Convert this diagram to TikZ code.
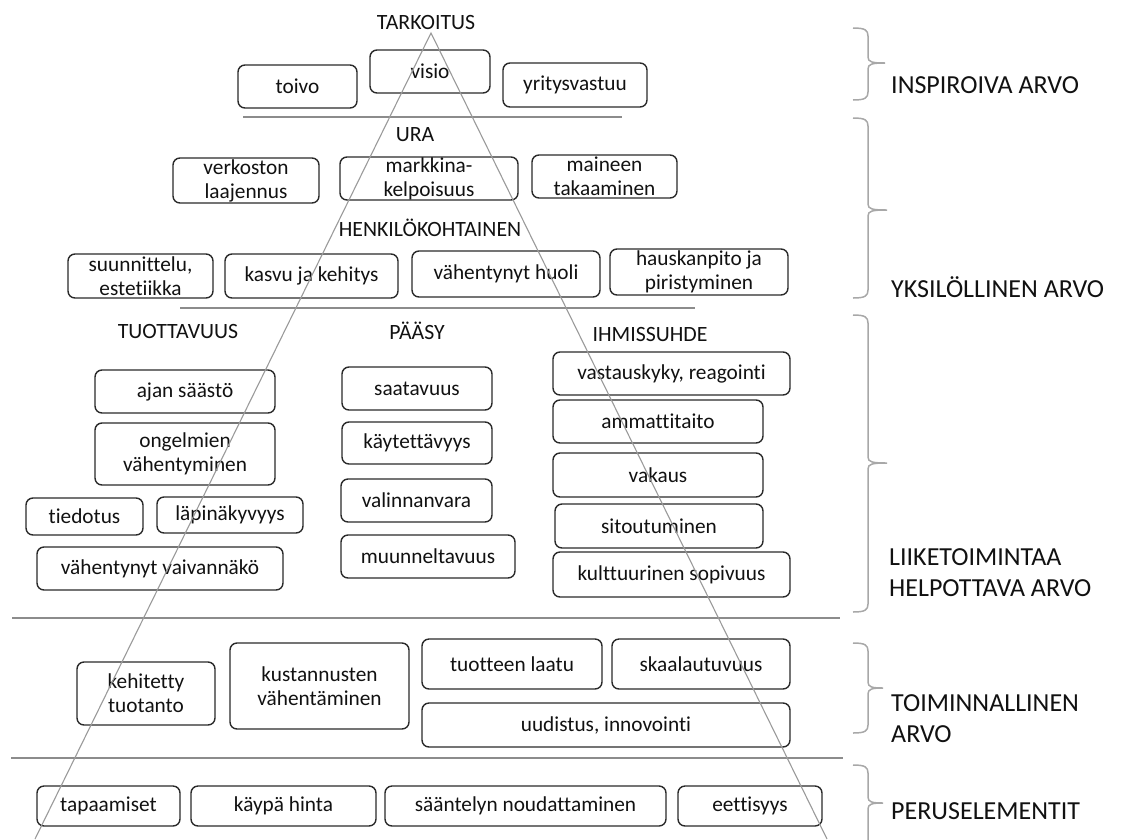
\documentclass[tikz,border=0pt]{standalone}
\usepackage{fontspec}
\setmainfont{Carlito}[Ligatures=NoCommon]
\definecolor{boxc}{HTML}{2A2A2A}
\definecolor{linec}{HTML}{8C8C8C}
\definecolor{tric}{HTML}{9A9A9A}
\definecolor{bracec}{HTML}{A8A8A8}
\definecolor{txtc}{HTML}{111111}
\newcommand{\boxfont}{\fontsize{21.3}{24}\selectfont}
\newcommand{\hdfont}{\fontsize{21.8}{24}\selectfont}
\newcommand{\rlfont}{\fontsize{26}{31}\selectfont}
\newcommand{\bx}[6]{\node[bx, minimum width=#4pt-#2pt, minimum height=#5pt-#3pt] (#1) at ({(#2+#4)/2},{(#3+#5)/2}) {#6};}
\newcommand{\sidebrace}[4]{%
  \draw[brc] (853,#2) .. controls (865,#2) and (868,#2+2) .. (868,#2+8)
     -- (868,#3-6) .. controls (868,#3-1) and (872,#3) .. (#1,#3)
     (#1,#3) .. controls (872,#3) and (868,#3+1) .. (868,#3+6)
     -- (868,#4-8) .. controls (868,#4-2) and (865,#4) .. (853,#4);}
\begin{document}
\begin{tikzpicture}[x=1pt,y=-1pt,
  bx/.style={draw=boxc, rounded corners=7pt, line width=1.4pt, inner sep=0pt, align=center, font=\boxfont, text=txtc},
  hd/.style={font=\hdfont, inner sep=0pt, text=txtc},
  rl/.style={font=\rlfont, inner sep=0pt, anchor=west, align=left, text=txtc},
  sep/.style={draw=linec, line width=1.6pt},
  tri/.style={draw=tric, line width=1.1pt},
  brc/.style={draw=bracec, line width=1.5pt}]
\useasboundingbox (0,0) rectangle (1130,839);

% headings
\node[hd] (tarkoitus) at (426,23) {TARKOITUS};
\node[hd] (ura) at (415,135) {URA};
\node[hd] (henk) at (430,228) {HENKILÖKOHTAINEN};
\node[hd] (tuott) at (178,331) {TUOTTAVUUS};
\node[hd] (paasy) at (417,331) {PÄÄSY};
\node[hd] (ihm) at (650,334) {IHMISSUHDE};

% inspiroiva
\bx{toivo}{238}{65}{357}{108}{toivo}
\bx{visio}{370}{50}{490}{93}{visio}
\bx{yritys}{503}{63}{647}{107}{yritysvastuu}

% ura
\bx{verk}{173}{158}{319}{203}{verkoston\\laajennus}
\bx{markk}{340}{157}{518}{200}{markkina-\\kelpoisuus}
\bx{maine}{532}{155}{677}{198}{maineen\\takaaminen}

% henkilokohtainen
\bx{suun}{68}{254}{213}{298}{suunnittelu,\\estetiikka}
\bx{kasvu}{225}{254}{398}{298}{kasvu ja kehitys}
\bx{huoli}{412}{251}{600}{297}{vähentynyt huoli}
\bx{hausk}{610}{249}{788}{295}{hauskanpito ja\\piristyminen}

% tuottavuus
\bx{ajan}{95}{370}{275}{413}{ajan säästö}
\bx{ongel}{95}{423}{275}{485}{ongelmien\\vähentyminen}
\bx{tied}{26}{498}{143}{535}{tiedotus}
\bx{lapin}{157}{497}{303}{533}{läpinäkyvyys}
\bx{vaiv}{37}{547}{283}{590}{vähentynyt vaivannäkö}

% paasy
\bx{saat}{342}{367}{492}{410}{saatavuus}
\bx{kayt}{342}{422}{492}{464}{käytettävyys}
\bx{valin}{341}{479}{492}{522}{valinnanvara}
\bx{muun}{341}{535}{515}{578}{muunneltavuus}

% ihmissuhde
\bx{vast}{553}{352}{790}{395}{vastauskyky, reagointi}
\bx{amm}{553}{400}{763}{443}{ammattitaito}
\bx{vak}{553}{453}{763}{497}{vakaus}
\bx{sit}{555}{504}{763}{548}{sitoutuminen}
\bx{kult}{553}{552}{790}{597}{kulttuurinen sopivuus}

% toiminnallinen
\bx{kehit}{77}{662}{215}{725}{kehitetty\\tuotanto}
\bx{kust}{230}{643}{409}{729}{kustannusten\\vähentäminen}
\bx{laatu}{422}{639}{602}{689}{tuotteen laatu}
\bx{skaal}{612}{639}{790}{689}{skaalautuvuus}
\bx{uud}{422}{703}{790}{747}{uudistus, innovointi}

% peruselementit
\bx{tapaa}{37}{786}{180}{826}{tapaamiset}
\bx{kaypa}{191}{786}{376}{826}{käypä hinta}
\bx{saant}{385}{786}{666}{826}{sääntelyn noudattaminen}
\bx{eett}{678}{786}{822}{826}{eettisyys}

% separators
\draw[sep] (243,117) -- (622,117);
\draw[sep] (180,308) -- (695,308);
\draw[sep] (12,618) -- (840,618);
\draw[sep] (11,758) -- (843,758);

% triangle
\coordinate (apex) at (431,33);
\coordinate (bl) at (35,839);
\coordinate (br) at (827,839);
\draw[tri] (bl) -- (apex) -- (br);

% braces
\sidebrace{885}{28}{63}{100}
\sidebrace{887}{118}{210}{298}
\sidebrace{887}{315}{463}{612}
\sidebrace{883}{643}{688}{733}
\sidebrace{883}{765}{803}{850}

% right labels
\node[rl] (insp) at (891,85) {INSPIROIVA ARVO};
\node[rl] (yks) at (891,287) {YKSILÖLLINEN ARVO};
\node[rl] (liik) at (889,573) {LIIKETOIMINTAA\\HELPOTTAVA ARVO};
\node[rl] (toim) at (891,719) {TOIMINNALLINEN\\ARVO};
\node[rl] (perus) at (891,811) {PERUSELEMENTIT};
\end{tikzpicture}
\end{document}
